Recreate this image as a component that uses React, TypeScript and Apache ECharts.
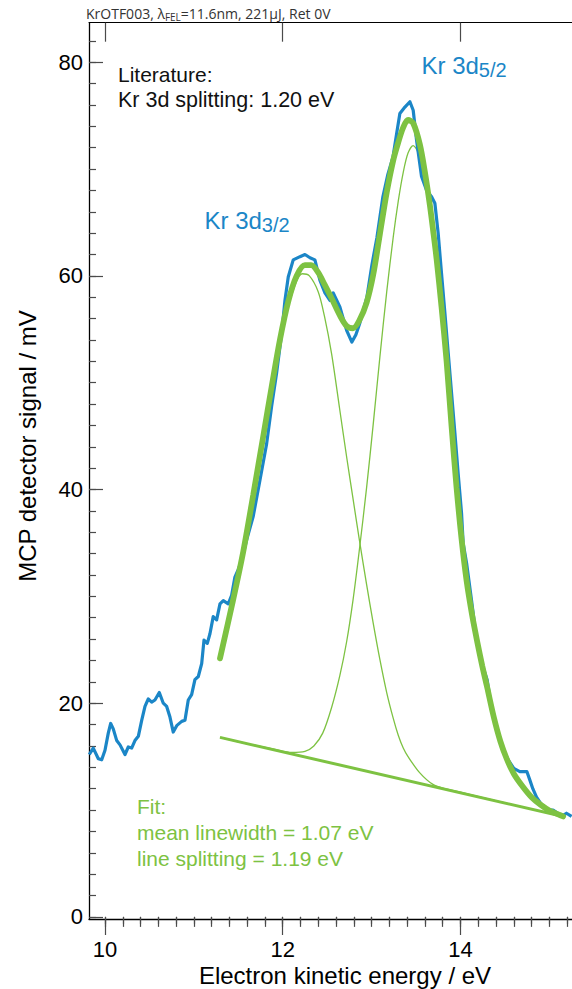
import { useEffect, useRef } from 'react';
import * as echarts from 'echarts';

// Measured MCP trace: electron kinetic energy (eV) and detector signal (mV)
const energy = [
  9.823, 9.868, 9.925, 9.963, 10.0, 10.037, 10.064, 10.093, 10.132, 10.169, 10.225, 10.262, 10.3, 10.337,
  10.375, 10.413, 10.45, 10.487, 10.525, 10.562, 10.611, 10.656, 10.694, 10.731, 10.768, 10.807, 10.863,
  10.9, 10.937, 10.975, 11.012, 11.05, 11.088, 11.114, 11.151, 11.181, 11.218, 11.256, 11.294, 11.331,
  11.387, 11.425, 11.462, 11.499, 11.538, 11.594, 11.668, 11.744, 11.819, 11.875, 11.931, 11.988, 12.025,
  12.062, 12.118, 12.194, 12.25, 12.306, 12.362, 12.418, 12.475, 12.531, 12.568, 12.643, 12.719, 12.778,
  12.823, 12.868, 12.947, 13.003, 13.06, 13.127, 13.183, 13.24, 13.285, 13.318, 13.375, 13.431, 13.468,
  13.506, 13.562, 13.619, 13.675, 13.712, 13.749, 13.787, 13.825, 13.862, 13.9, 13.937, 13.974, 14.012,
  14.03, 14.069, 14.125, 14.181, 14.218, 14.3, 14.331, 14.413, 14.462, 14.537, 14.6, 14.668, 14.747,
  14.781, 14.814, 14.856, 14.904, 14.968, 15.042, 15.096, 15.137, 15.193, 15.25,
];
const signal = [
  15.2, 15.8, 14.8, 14.7, 15.6, 17.2, 18.1, 17.6, 16.5, 16.1, 15.2, 15.9, 15.8, 16.5,
  16.9, 18.4, 19.7, 20.4, 20.1, 20.3, 21.0, 20.0, 19.7, 18.7, 17.3, 17.9, 18.3,
  18.4, 20.3, 20.8, 22.2, 22.5, 23.7, 25.9, 25.6, 26.5, 28.1, 27.8, 29.3, 29.6,
  29.3, 30.1, 31.8, 32.5, 33.4, 35.3, 37.5, 40.9, 44.3, 47.8, 50.9, 54.6, 57.7,
  59.9, 61.5, 61.8, 62.0, 61.7, 61.5, 59.6, 58.4, 57.7, 58.4, 57.1, 54.9, 53.8,
  54.5, 55.6, 58.0, 61.0, 63.6, 67.4, 69.5, 71.1, 73.5, 75.2, 75.8, 76.3, 75.5,
  72.7, 69.3, 68.0, 67.4, 66.8, 64.0, 60.2, 56.5, 52.8, 49.0, 45.3, 41.5, 37.8,
  35.0, 33.1, 29.6, 25.9, 24.3, 22.2, 20.5, 17.5, 15.9, 14.7, 13.9, 13.6, 13.6,
  12.8, 12.0, 11.2, 10.6, 10.0, 10.0, 9.7, 9.4, 9.7, 9.4,
];

// Total fit (two peaks on a linear background)
const fitEnergy = [
  11.294, 11.44, 11.556, 11.668, 11.781, 11.875, 11.968, 12.062, 12.156, 12.25, 12.32, 12.4, 12.47, 12.55,
  12.643, 12.72, 12.79, 12.86, 12.944, 13.018, 13.093, 13.17, 13.243, 13.3, 13.356, 13.41, 13.468, 13.543,
  13.6, 13.656, 13.693, 13.731, 13.787, 13.844, 13.9, 13.956, 14.012, 14.07, 14.13, 14.19, 14.245, 14.3,
  14.375, 14.45, 14.52, 14.6, 14.7, 14.8, 14.9, 15.0, 15.1, 15.155,
];
const fitTotal = [
  24.2, 29.6, 34.2, 39.5, 45.0, 49.6, 54.0, 57.6, 60.0, 61.0, 61.0, 60.3, 59.2, 57.9,
  56.3, 55.3, 55.1, 55.8, 57.5, 60.1, 63.9, 67.8, 70.8, 72.5, 73.9, 74.6, 74.3, 72.3,
  69.7, 66.6, 64.2, 61.6, 57.1, 52.0, 45.9, 40.2, 35.4, 31.4, 28.3, 25.7, 23.5, 21.5,
  18.7, 16.4, 14.8, 13.4, 12.2, 11.2, 10.5, 9.95, 9.6, 9.4,
];

// Kr 3d3/2 component
const peak32Energy = [
  11.294, 11.44, 11.556, 11.668, 11.781, 11.875, 11.968, 12.062, 12.156, 12.22, 12.3, 12.4, 12.47, 12.55,
  12.643, 12.72, 12.79, 12.86, 12.944, 13.018, 13.093, 13.17, 13.243, 13.3, 13.356, 13.41, 13.54, 13.69,
  13.85, 14.0, 14.5, 15.0, 15.17,
];
const peak32 = [
  24.1, 29.5, 34.1, 39.4, 44.9, 49.4, 53.7, 57.1, 59.5, 60.2, 60.0, 58.5, 56.2, 52.7,
  47.4, 43.0, 39.2, 35.4, 31.1, 27.5, 24.1, 21.0, 18.6, 17.0, 15.8, 15.0, 13.5, 12.4,
  11.95, 11.68, 10.66, 9.7, 9.37,
];

// Kr 3d5/2 component
const peak52Energy = [
  11.294, 11.6, 11.9, 12.1, 12.25, 12.35, 12.45, 12.55, 12.643, 12.72, 12.79, 12.86, 12.944, 13.018,
  13.093, 13.17, 13.243, 13.3, 13.356, 13.41, 13.468, 13.52, 13.58, 13.64, 13.693, 13.75, 13.8, 13.844,
  13.9, 13.956, 14.012, 14.07, 14.13, 14.19, 14.245, 14.3, 14.375, 14.45, 14.52, 14.6, 14.7, 14.8, 14.9,
  15.0, 15.1, 15.155,
];
const peak52 = [
  16.8, 16.2, 15.7, 15.4, 15.5, 16.0, 17.2, 19.6, 22.6, 25.8, 29.6, 34.2, 40.2, 46.1,
  52.4, 58.5, 63.6, 67.0, 69.7, 71.5, 72.2, 71.6, 69.6, 66.9, 63.9, 60.0, 56.0, 51.9,
  45.8, 40.2, 35.4, 31.4, 28.3, 25.7, 23.5, 21.5, 18.7, 16.4, 14.8, 13.4, 12.2, 11.2, 10.5,
  9.95, 9.6, 9.4,
];

// Linear background of the fit
const backgroundEnergy = [11.294, 15.17];
const background = [16.8, 9.37];

const xTickLabels = [10, 12, 14];
const yTickLabels = [0, 20, 40, 60, 80];

const X_MIN = 9.82;
const X_MAX = 15.255;
const Y_MIN = -0.2;
const Y_MAX = 83.7;

const xMinorTicks: number[] = [];
for (let i = 50; i <= 76; i++) xMinorTicks.push(i / 5);
const yMinorTicks: number[] = [];
for (let v = 0; v <= 82; v += 2) yMinorTicks.push(v);

const zip = (xs: number[], ys: number[]) => xs.map((x, i) => [x, ys[i]]);

const BLUE = '#1b86c7';
const GREEN = '#7dc242';
const SANS = '"Liberation Sans", Arial, Helvetica, sans-serif';

export default function App() {
  const ref = useRef<HTMLDivElement>(null);

  useEffect(() => {
    if (!ref.current) return;
    const chart = echarts.init(ref.current, null, { renderer: 'svg' });
    const tick = { color: '#4a4a4a', width: 1.2 };
    const xBase = { type: 'value', min: X_MIN, max: X_MAX, splitLine: { show: false } };
    const yBase = { type: 'value', min: Y_MIN, max: Y_MAX, splitLine: { show: false } };
    const label = (text: string, x: number, y: number, color: string, size = 21) => ({
      type: 'text', x, y,
      style: { text, font: `${size}px ${SANS}`, fill: color, verticalAlign: 'middle' },
    });
    const subLabel = (main: string, sub: string, x: number, y: number) => ({
      type: 'text', x, y,
      style: {
        text: `{m|${main}}{s|${sub}}`, verticalAlign: 'top',
        rich: {
          m: { fontSize: 24, lineHeight: 30, fontFamily: SANS, fill: BLUE },
          s: { fontSize: 20, lineHeight: 20, fontFamily: SANS, fill: BLUE, verticalAlign: 'bottom' },
        },
      },
    });

    chart.setOption({
      animation: false,
      backgroundColor: '#ffffff',
      grid: { left: 89, right: 0, top: 22.7, bottom: 70, containLabel: false },
      xAxis: [
        {
          ...xBase,
          position: 'bottom',
          axisLine: { show: true, onZero: false, lineStyle: { color: '#000', width: 1.3 } },
          axisTick: { show: true, inside: false, length: 16, customValues: xTickLabels, lineStyle: tick },
          axisLabel: { show: true, customValues: xTickLabels, fontSize: 22, color: '#000', fontFamily: SANS, margin: 19 },
        },
        {
          ...xBase,
          position: 'bottom',
          axisLine: { show: false },
          axisTick: { show: true, inside: false, length: 7, customValues: xMinorTicks, lineStyle: tick },
          axisLabel: { show: false },
        },
        {
          ...xBase,
          position: 'top',
          axisLine: { show: true, onZero: false, lineStyle: { color: '#000', width: 1 } },
          axisTick: { show: true, inside: true, length: 19, customValues: xTickLabels, lineStyle: tick },
          axisLabel: { show: false },
        },
        {
          ...xBase,
          position: 'top',
          axisLine: { show: false },
          axisTick: { show: true, inside: true, length: 10, customValues: xMinorTicks, lineStyle: tick },
          axisLabel: { show: false },
        },
      ],
      yAxis: [
        {
          ...yBase,
          position: 'left',
          axisLine: { show: true, onZero: false, lineStyle: { color: '#000', width: 1.3 } },
          axisTick: { show: true, inside: true, length: 14, customValues: yTickLabels, lineStyle: tick },
          axisLabel: { show: true, customValues: yTickLabels, fontSize: 22, color: '#000', fontFamily: SANS, margin: 6 },
        },
        {
          ...yBase,
          position: 'left',
          axisLine: { show: false },
          axisTick: { show: true, inside: true, length: 7, customValues: yMinorTicks, lineStyle: tick },
          axisLabel: { show: false },
        },
      ],
      series: [
        {
          type: 'line', xAxisIndex: 0, yAxisIndex: 0, data: zip(backgroundEnergy, background),
          showSymbol: false, symbol: 'none', lineStyle: { color: GREEN, width: 3 }, z: 2,
        },
        {
          type: 'line', xAxisIndex: 0, yAxisIndex: 0, data: zip(peak32Energy, peak32), smooth: 0.3,
          showSymbol: false, symbol: 'none', lineStyle: { color: GREEN, width: 1.3 }, z: 2,
        },
        {
          type: 'line', xAxisIndex: 0, yAxisIndex: 0, data: zip(peak52Energy, peak52), smooth: 0.3,
          showSymbol: false, symbol: 'none', lineStyle: { color: GREEN, width: 1.3 }, z: 2,
        },
        {
          type: 'line', xAxisIndex: 0, yAxisIndex: 0, data: zip(energy, signal),
          showSymbol: false, symbol: 'none', lineStyle: { color: BLUE, width: 3.2, join: 'round' }, z: 3,
        },
        {
          type: 'line', xAxisIndex: 0, yAxisIndex: 0, data: zip(fitEnergy, fitTotal), smooth: 0.3,
          showSymbol: false, symbol: 'none', lineStyle: { color: GREEN, width: 5.8, cap: 'round' }, z: 4,
        },
      ],
      graphic: [
        {
          type: 'text', x: 86, y: 4,
          style: {
            text: '{m|KrOTF003, λ}{s|FEL}{m|=11.6nm, 221µJ, Ret 0V}',
            verticalAlign: 'top',
            rich: {
              m: { fontSize: 14, lineHeight: 18, fontFamily: '"Open Sans", sans-serif', fill: '#333' },
              s: { fontSize: 10, lineHeight: 10, fontFamily: '"Open Sans", sans-serif', fill: '#333', verticalAlign: 'bottom' },
            },
          },
        },
        label('Literature:', 118, 74, '#111'),
        label('Kr 3d splitting: 1.20 eV', 118, 100, '#111', 21.5),
        subLabel('Kr 3d', '5/2', 421.5, 50),
        subLabel('Kr 3d', '3/2', 204.5, 205),
        label('Fit:', 137, 806, GREEN),
        label('mean linewidth = 1.07 eV', 137, 832, GREEN),
        label('line splitting = 1.19 eV', 137, 858, GREEN),
        {
          type: 'text', x: 345, y: 975,
          style: { text: 'Electron kinetic energy / eV', font: `24px ${SANS}`, fill: '#000', align: 'center', verticalAlign: 'middle' },
        },
        {
          type: 'text', x: 27, y: 446, rotation: Math.PI / 2,
          style: { text: 'MCP detector signal / mV', font: `24px ${SANS}`, fill: '#000', align: 'center', verticalAlign: 'middle' },
        },
      ],
    });

    return () => chart.dispose();
  }, []);

  return (
    <div
      ref={ref}
      style={{ position: 'fixed', left: 0, top: 0, width: 572, height: 989, background: '#fff' }}
    />
  );
}
